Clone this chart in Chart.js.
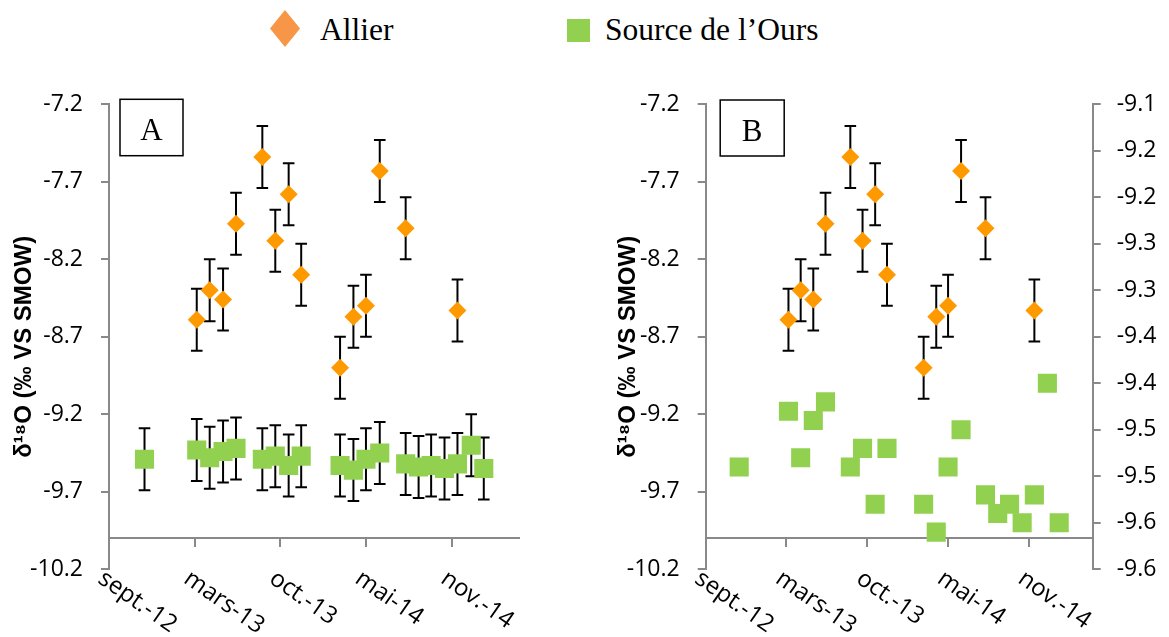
<!DOCTYPE html>
<html><head><meta charset="utf-8">
<script src="https://cdn.jsdelivr.net/npm/chart.js@4.4.1/dist/chart.umd.min.js"></script>
<style>
html,body{margin:0;padding:0;background:#fff;}
body{width:1169px;height:637px;position:relative;overflow:hidden;}
canvas{position:absolute;}
#chartA{left:0;top:60px;}
#chartB{left:580px;top:60px;}
.leg{position:absolute;font-family:'Liberation Serif','Times New Roman',serif;font-size:31.5px;line-height:1;color:#000;white-space:nowrap;}
</style></head><body>
<div id="legend"></div>
<canvas id="chartA" width="580" height="577"></canvas>
<canvas id="chartB" width="589" height="577"></canvas>
<script>
// ---- data ----
const sampleDates = ['2012-11-25','2013-03-30','2013-04-30','2013-06-01','2013-07-02','2013-09-03','2013-10-04','2013-11-05','2013-12-05','2014-03-08','2014-04-09','2014-05-09','2014-06-11','2014-08-12','2014-09-12','2014-10-12','2014-11-13','2014-12-14','2015-01-16','2015-02-15'];
const allierValues = [null,-8.59,-8.40,-8.46,-7.97,-7.54,-8.08,-7.78,-8.30,-8.90,-8.57,-8.50,-7.63,-8.00,null,null,null,-8.53,null,null];
const allierErrors = [null,0.2,0.2,0.2,0.2,0.2,0.2,0.2,0.2,0.2,0.2,0.2,0.2,0.2,null,null,null,0.2,null,null];
const ourValues = [-9.49,-9.43,-9.48,-9.44,-9.42,-9.49,-9.47,-9.53,-9.47,-9.53,-9.56,-9.49,-9.45,-9.52,-9.54,-9.53,-9.55,-9.52,-9.40,-9.55];
const ourErrors = [0.2,0.2,0.2,0.2,0.2,0.2,0.2,0.2,0.2,0.2,0.2,0.2,0.2,0.2,0.2,0.2,0.2,0.2,0.2,0.2];
const seriesNames = ['Allier', 'Source de l\u2019Ours'];
const xTickLabels = ['sept.-12','mars-13','oct.-13','mai-14','nov.-14'];
const axisStart = '2012-09-01';
const xStepDays = 205;
const xMaxDays = 982;
const yTitle = '\u03B4\u00B9\u2078O (\u2030 VS SMOW)   ';

// ---- styles ----
const orange = '#FF9900', orangeLegend = '#F79646', green = '#92D050', axisGray = '#898989';
const tickFont = {family:"'Open Sans'", size:23};
const xTickFont = {family:"'Open Sans'", size:24};

const dayOf = d => (Date.parse(d) - Date.parse(axisStart)) / 864e5;
const pts = vals => sampleDates.map((d,i)=>({x:dayOf(d), y:vals[i]}));
const errPts = (vals, errs) => {
  const out = [];
  sampleDates.forEach((d,i)=>{
    if (vals[i] === null) return;
    const x = dayOf(d);
    out.push({x, y:vals[i]-errs[i]}, {x, y:vals[i]+errs[i]}, {x, y:null});
  });
  return out;
};

// legend (HTML)
document.getElementById('legend').innerHTML =
  `<svg style="position:absolute;left:270px;top:10px" width="30" height="37"><polygon points="15,0 30,18.5 15,37 0,18.5" fill="${orangeLegend}"/></svg>`+
  `<div class="leg" style="left:320px;top:13.6px">${seriesNames[0]}</div>`+
  `<div style="position:absolute;left:567px;top:19px;width:23px;height:23px;background:${green}"></div>`+
  `<div class="leg" style="left:605px;top:13.6px">${seriesNames[1]}</div>`;

const panelTag = {
  id:'panelTag',
  afterDraw(chart, args, o){
    const {ctx, chartArea:a} = chart;
    const x = a.left + o.dx, y = a.top + o.dy;
    ctx.save();
    ctx.fillStyle = '#fff';
    ctx.fillRect(x, y, o.w, o.h);
    ctx.lineWidth = 1.5; ctx.strokeStyle = '#000';
    ctx.strokeRect(x, y, o.w, o.h);
    ctx.fillStyle = '#000';
    ctx.font = "31px 'Liberation Serif'";
    ctx.textAlign = 'center'; ctx.textBaseline = 'alphabetic';
    ctx.fillText(o.text, x + o.w/2, y + 40.7);
    ctx.restore();
  }
};

const setXTicks = s => { s.ticks = xTickLabels.map((_,i)=>({value:i*xStepDays})); };
const excelRound1 = v => (Math.sign(v)*Math.round(Math.abs(v)*10 + 1e-7)/10).toFixed(1);

function xScales(){
  return {
    x: { type:'linear', axis:'x', position:'bottom', min:0, max:xMaxDays,
      afterBuildTicks: setXTicks,
      beforeUpdate: s => { s._getXAxisLabelAlignment = () => 'left'; },
      afterFit: s => { s.height = 67.7; },
      grid:{display:false, drawTicks:false}, border:{display:false},
      ticks:{ minRotation:-35, maxRotation:-35, autoSkip:false, padding:-5, color:'#000', font:xTickFont,
        showLabelBackdrop:true, backdropColor:'rgba(0,0,0,0)', backdropPadding:0,
        callback:(v,i)=>xTickLabels[i] } },
    xLine: { type:'linear', axis:'x', position:{y:-10}, min:0, max:xMaxDays,
      afterBuildTicks: setXTicks,
      grid:{drawOnChartArea:false, drawTicks:true, tickLength:8, color:axisGray, lineWidth:2},
      border:{display:true, color:axisGray, width:2},
      ticks:{display:false} }
  };
}
function leftY(titlePadTop, width){
  return { type:'linear', position:'left', min:-10.2, max:-7.2,
    afterFit: s => { s.width = width; },
    grid:{drawOnChartArea:false, drawTicks:true, tickLength:8, color:axisGray, lineWidth:2},
    border:{color:axisGray, width:2},
    ticks:{stepSize:0.5, padding:18, color:'#000', font:tickFont, callback:v=>v.toFixed(1)},
    title:{display:true, text:yTitle, color:'#000', font:{family:"'Liberation Sans'", size:24, weight:'bold'}, padding:{top:titlePadTop, bottom:0}} };
}
const markerA = {label:seriesNames[0], data:pts(allierValues), pointStyle:'rectRot', pointRadius:9, pointHoverRadius:9,
  backgroundColor:orange, borderColor:orange, pointBorderWidth:0, showLine:false, order:0};
const errStyle = {showLine:true, spanGaps:false, borderColor:'#000', borderWidth:2, pointStyle:'line', pointRadius:5.8, pointHoverRadius:5.8,
  pointBorderColor:'#000', pointBorderWidth:2, backgroundColor:'#000', order:1};
const common = {responsive:false, animation:false, events:[],
  plugins:{legend:{display:false}, tooltip:{enabled:false}}};

new Chart(document.getElementById('chartA'), {
  type:'scatter',
  data:{datasets:[
    markerA,
    {label:seriesNames[1], data:pts(ourValues), pointStyle:'rect', pointRadius:13.5, pointHoverRadius:13.5,
      backgroundColor:green, borderColor:green, pointBorderWidth:0, showLine:false, order:0},
    Object.assign({label:'err-Allier', data:errPts(allierValues, allierErrors)}, errStyle),
    Object.assign({label:'err-Ours', data:errPts(ourValues, ourErrors)}, errStyle)
  ]},
  options:Object.assign({}, common, {
    layout:{padding:{top:44.3, left:0, right:60.7, bottom:0}},
    scales:Object.assign(xScales(), {y:leftY(9.8, 109)}),
    plugins:Object.assign({}, common.plugins, {panelTag:{text:'A', dx:11, dy:-5, w:63, h:56.4}})
  }),
  plugins:[panelTag]
});

new Chart(document.getElementById('chartB'), {
  type:'scatter',
  data:{datasets:[
    Object.assign({}, markerA, {data:pts(allierValues)}),
    {label:seriesNames[1], data:pts(ourValues), yAxisID:'y2', pointStyle:'rect', pointRadius:13.5, pointHoverRadius:13.5,
      backgroundColor:green, borderColor:green, pointBorderWidth:0, showLine:false, order:0},
    Object.assign({label:'err-Allier', data:errPts(allierValues, allierErrors)}, errStyle)
  ]},
  options:Object.assign({}, common, {
    layout:{padding:{top:44.3, left:0, right:0, bottom:0}},
    scales:Object.assign(xScales(), {
      y:leftY(34, 125.7),
      y2:{ type:'linear', position:'right', min:-9.6, max:-9.1,
        afterFit: s => { s.width = 76.3; },
        grid:{drawOnChartArea:false, drawTicks:true, tickLength:8, color:axisGray, lineWidth:2},
        border:{color:axisGray, width:2},
        ticks:{stepSize:0.05, padding:16, color:'#000', font:tickFont, callback:excelRound1} }
    }),
    plugins:Object.assign({}, common.plugins, {panelTag:{text:'B', dx:14.5, dy:-4.3, w:64, h:56}})
  }),
  plugins:[panelTag]
});
</script>
</body></html>
